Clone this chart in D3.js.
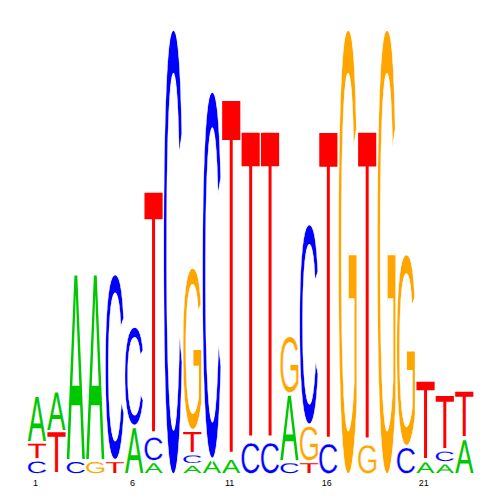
<!DOCTYPE html>
<html>
<head>
<meta charset="utf-8">
<script src="https://cdn.jsdelivr.net/npm/d3@7/dist/d3.min.js"></script>
<style>
html,body{margin:0;padding:0;background:#fff;}
svg{display:block;}
</style>
</head>
<body>
<svg id="chart" width="500" height="500"></svg>
<script>
// Sequence logo data (information content in bits per base, per position)
const positions = [1,2,3,4,5,6,7,8,9,10,11,12,13,14,15,16,17,18,19,20,21,22,23];
const bitsA = [0.211,0.182,0.839,0.839,0,0.215,0.058,0,0.046,0.070,0.072,0,0,0.303,0,0,0,0,0,0,0.061,0.052,0.161];
const bitsC = [0.065,0,0.063,0,0.839,0.448,0.114,2.0,0.048,1.652,0,0.148,0.148,0.058,0.904,0.143,0,0,0,0.126,0,0.056,0];
const bitsG = [0,0,0,0.063,0,0,0,0,0.733,0,0,0,0,0.262,0.164,0,2.0,0.139,2.0,0.865,0,0,0];
const bitsT = [0.078,0.195,0,0,0.063,0,1.101,0,0.105,0,1.614,1.395,1.395,0,0.058,1.399,0,1.404,0,0,0.361,0.251,0.215];
// stacking order, bottom to top
const stackOrder = ["CTA","TA","CA","GA","TC","AC","ACT","C","ACTG","AC","AT","CT","CT","CAG","TGC","CT","G","GT","G","CG","AT","ACT","AT"];
const tickLabels = [1,6,11,16,21];

const colors = {A:"#00c800", C:"#0000ff", G:"#ffa500", T:"#ff0000"};
const bits = {A:bitsA, C:bitsC, G:bitsG, T:bitsT};

const svg = d3.select("#chart");
const x = d3.scaleBand().domain(positions).range([27.3, 474]).paddingInner(0.058).paddingOuter(0.029);
const y = d3.scaleLinear().domain([0, 2]).range([474.5, 28.5]);
const vpad = 1.5;

const FONT = "'Liberation Sans', Arial, Helvetica, sans-serif";
const ctx = document.createElement("canvas").getContext("2d");
ctx.font = "100px " + FONT;
const ink = {};
["A","C","G","T"].forEach(L => {
  const m = ctx.measureText(L);
  ink[L] = {l: m.actualBoundingBoxLeft, r: m.actualBoundingBoxRight, a: m.actualBoundingBoxAscent, d: m.actualBoundingBoxDescent};
});

const glyphs = [];
positions.forEach((p, i) => {
  let cum = 0;
  stackOrder[i].split("").forEach(L => {
    const v = bits[L][i];
    glyphs.push({pos: p, letter: L, y0: cum, y1: cum + v});
    cum += v;
  });
});

const round = L => L === "C" || L === "G";
function thin(d) {
  const h = y(d.y0) - y(d.y1);
  return round(d.letter) ? Math.min(1.0, h / 22) : 0;
}
function box(d) {
  const full = y(d.y0) - y(d.y1);
  const sw = thin(d);
  const p = round(d.letter) ? vpad - sw * (full / 446) * 3.5 : vpad;
  const top = y(d.y1) + p, bot = y(d.y0) - p;
  return {x0: x(d.pos), w: x.bandwidth(), top, h: Math.max(0.5, bot - top)};
}

svg.append("g").selectAll("text")
  .data(glyphs)
  .join("text")
  .attr("x", 0).attr("y", 0)
  .attr("font-family", FONT)
  .attr("font-size", 100)
  .attr("text-rendering", "geometricPrecision")
  .attr("fill", d => colors[d.letter])
  .attr("stroke", d => thin(d) > 0 ? "#fff" : "none")
  .attr("stroke-width", d => thin(d))
  .attr("vector-effect", "non-scaling-stroke")
  .attr("transform", d => {
    const b = ink[d.letter], r = box(d);
    const sx = r.w / (b.l + b.r), sy = r.h / (b.a + b.d);
    return `translate(${r.x0 + b.l * sx},${r.top + b.a * sy}) scale(${sx},${sy})`;
  })
  .text(d => d.letter);

svg.append("g").selectAll("text")
  .data(tickLabels)
  .join("text")
  .attr("x", d => x(d) + x.bandwidth() / 2 - 1.6)
  .attr("y", 485.5)
  .attr("text-anchor", "middle")
  .attr("font-family", FONT)
  .attr("font-size", 9)
  .attr("fill", "#000")
  .text(d => d);
</script>
</body>
</html>
